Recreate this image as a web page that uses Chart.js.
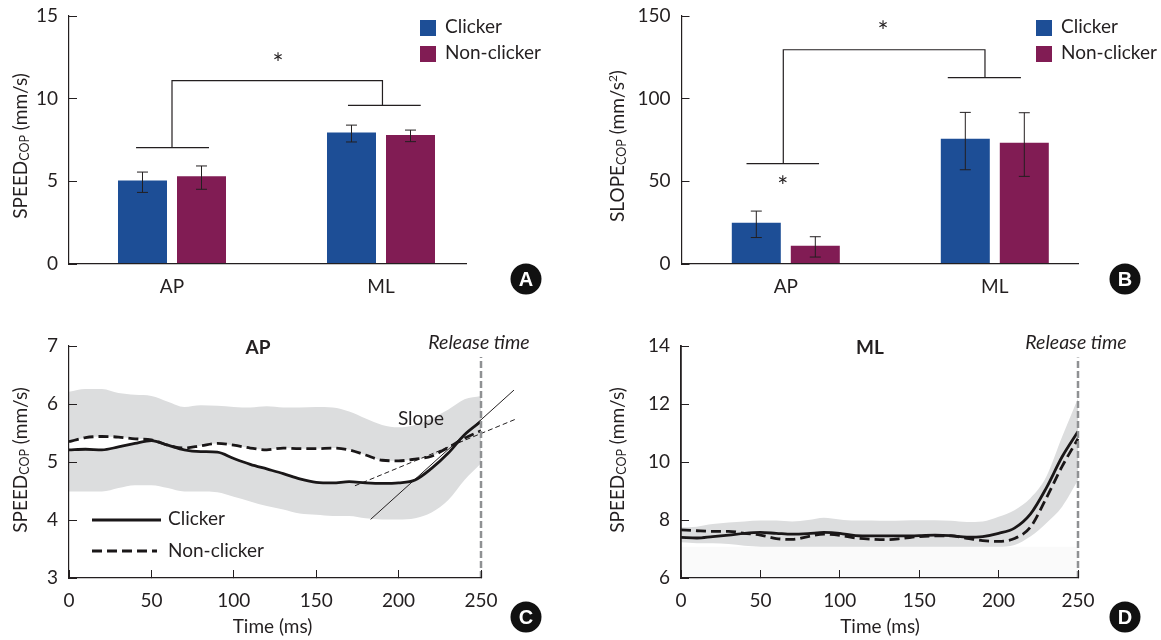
<!DOCTYPE html>
<html>
<head>
<meta charset="utf-8">
<script src="https://cdn.jsdelivr.net/npm/chart.js@4"></script>
<style>
html,body{margin:0;padding:0;background:#fff;width:1161px;height:640px;overflow:hidden}
canvas{position:absolute;display:block}
</style>
</head>
<body>
<canvas id="a" style="left:0;top:0"></canvas>
<canvas id="b" style="left:580px;top:0"></canvas>
<canvas id="c" style="left:0;top:320px"></canvas>
<canvas id="d" style="left:580px;top:320px"></canvas>
<script>
// ---------- data ----------
const groups = ['AP', 'ML'];
const seriesNames = ['Clicker', 'Non-clicker'];

const speedClicker = [5.05, 7.95];
const speedNonClicker = [5.3, 7.8];
const speedClickerHi = [5.56, 8.4];
const speedClickerLo = [4.33, 7.38];
const speedNonClickerHi = [5.93, 8.1];
const speedNonClickerLo = [4.52, 7.4];

const slopeClicker = [25, 75.8];
const slopeNonClicker = [11, 73.4];
const slopeClickerHi = [32, 91.7];
const slopeClickerLo = [16, 57];
const slopeNonClickerHi = [16.5, 91.5];
const slopeNonClickerLo = [4.2, 53];

const timeMs = [0,10,20,30,40,50,60,70,80,90,100,110,120,130,140,150,160,170,180,190,200,210,220,230,240,250];

const apClicker = [5.21,5.22,5.21,5.26,5.32,5.37,5.29,5.21,5.18,5.17,5.06,4.96,4.88,4.80,4.71,4.65,4.64,4.66,4.64,4.63,4.64,4.69,4.89,5.15,5.47,5.70];
const apNonClicker = [5.35,5.42,5.44,5.43,5.40,5.38,5.29,5.24,5.28,5.32,5.29,5.24,5.21,5.24,5.23,5.23,5.24,5.21,5.12,5.03,5.02,5.05,5.10,5.25,5.41,5.54];
const apBandUpper = [6.21,6.26,6.26,6.19,6.16,6.14,6.04,5.95,5.98,5.97,5.95,5.94,5.96,5.94,5.94,5.95,5.94,5.87,5.75,5.64,5.60,5.64,5.75,5.90,6.08,6.14];
const apBandLower = [4.49,4.49,4.49,4.55,4.60,4.60,4.55,4.49,4.49,4.48,4.40,4.32,4.24,4.18,4.11,4.09,4.07,4.07,4.03,4.01,4.01,4.03,4.13,4.34,4.69,4.98];
const slopeSolidX = [183, 270];
const slopeSolidY = [4.01, 6.24];
const slopeDashedX = [173.5, 272];
const slopeDashedY = [4.59, 5.75];

const mlClicker = [7.40,7.38,7.43,7.48,7.54,7.57,7.54,7.51,7.53,7.57,7.54,7.46,7.45,7.45,7.45,7.46,7.48,7.46,7.41,7.43,7.54,7.72,8.20,9.10,10.18,11.05];
const mlNonClicker = [7.66,7.63,7.61,7.61,7.54,7.48,7.36,7.33,7.43,7.51,7.47,7.38,7.34,7.32,7.37,7.43,7.45,7.45,7.37,7.29,7.26,7.36,7.75,8.75,9.85,10.80];
const mlBandUpper = [7.75,7.77,7.86,7.91,7.95,7.98,7.98,7.95,8.00,8.08,8.02,7.98,7.98,7.97,7.98,7.99,7.99,7.97,7.93,7.95,8.11,8.34,8.75,9.49,10.87,12.2];
const mlBandLower = [7.23,7.20,7.20,7.17,7.11,7.08,7.08,7.08,7.08,7.08,7.08,7.08,7.08,7.08,7.08,7.08,7.08,7.08,7.08,7.08,7.08,7.14,7.43,7.89,8.46,9.38];

// bracket polylines, x in category units (AP = 0, ML = 1), y in axis units
const bracketsAX = [[-0.172,0.177],[0.842,1.19],[0,0,1.007,1.007]];
const bracketsAY = [[7.04,7.04],[9.6,9.6],[7.04,11.09,11.09,9.6]];
const bracketsBX = [[-0.188,0.159],[0.775,1.125],[-0.012,-0.012,0.953,0.953]];
const bracketsBY = [[60.7,60.7],[112.7,112.7],[60.7,129.6,129.6,112.7]];

// ---------- styling ----------
const INK = '#231f20', BLUE = '#1d4e96', PLUM = '#811c54', BAND = '#dcddde', DASH = '#8f9193';
const FONT = 'Lato, "Open Sans", sans-serif';
const FS = 19;
const zip = (xs, ys) => xs.map((x, i) => ({x, y: ys[i]}));
Chart.defaults.font.family = FONT;
Chart.defaults.color = INK;
Chart.defaults.animation = false;

function txt(ctx, s, x, y, o = {}) {
  ctx.save();
  ctx.font = `${o.style || ''} ${o.weight || ''} ${o.size || FS}px ${FONT}`;
  ctx.fillStyle = o.color || INK;
  ctx.textAlign = o.align || 'left';
  ctx.textBaseline = o.base || 'middle';
  ctx.fillText(s, x, y);
  ctx.restore();
}
function rotatedTitle(ctx, parts, x, yc) {
  ctx.save();
  ctx.translate(x, yc);
  ctx.rotate(-Math.PI / 2);
  ctx.fillStyle = INK;
  ctx.textBaseline = 'alphabetic';
  ctx.textAlign = 'left';
  let w = 0;
  parts.forEach(p => { ctx.font = `${p.size || FS}px ${FONT}`; w += ctx.measureText(p.t).width; });
  let cx = -w / 2;
  parts.forEach(p => {
    ctx.font = `${p.size || FS}px ${FONT}`;
    ctx.fillText(p.t, cx, 7 + (p.dy || 0));
    cx += ctx.measureText(p.t).width;
  });
  ctx.restore();
}
function badge(ctx, s, x, y) {
  ctx.save();
  ctx.beginPath();
  ctx.arc(x, y, 15.5, 0, Math.PI * 2);
  ctx.fillStyle = '#111';
  ctx.fill();
  ctx.font = `bold 20px "Liberation Sans", Arial, sans-serif`;
  ctx.fillStyle = '#fff';
  ctx.textAlign = 'center';
  ctx.textBaseline = 'middle';
  ctx.fillText(s, x, y + 1);
  ctx.restore();
}
const SPEED_T = [{t:'SPEED'},{t:'COP',size:12.5,dy:2},{t:' (mm/s)'}];
const SLOPE_T = [{t:'SLOPE'},{t:'COP',size:12.5,dy:2},{t:' (mm/s'},{t:'2',size:12,dy:-7},{t:')'}];

// size = room the axis takes beside the plot area
function fixedScale(size, extra) {
  return Object.assign({
    afterFit(s) {
      if (s.isHorizontal()) { s.height = size; s.paddingLeft = 0; s.paddingRight = 0; }
      else { s.width = size; s.paddingTop = 0; s.paddingBottom = 0; }
    }
  }, extra);
}

function barChart(id, cfg) {
  const {w, h, left, right, top, bottom, yMax, yStep, center, step} = cfg;
  const lo = (left - center) / step, hi = (w - right - center) / step;
  const errorBars = {
    id:'errorBars',
    afterDatasetsDraw(chart) {
      const ctx = chart.ctx, ys = chart.scales.y;
      [0, 1].forEach(k => {
        chart.getDatasetMeta(k).data.forEach((el, i) => {
          const hiY = ys.getPixelForValue(cfg.hi[k][i]), loY = ys.getPixelForValue(cfg.lo[k][i]);
          ctx.save();
          ctx.strokeStyle = INK; ctx.lineWidth = 1;
          ctx.beginPath();
          ctx.moveTo(el.x, hiY); ctx.lineTo(el.x, loY);
          ctx.moveTo(el.x - 5.5, hiY); ctx.lineTo(el.x + 5.5, hiY);
          ctx.moveTo(el.x - 5.5, loY); ctx.lineTo(el.x + 5.5, loY);
          ctx.stroke();
          ctx.restore();
        });
      });
    }
  };
  const labels = {
    id:'labels',
    afterDraw(chart) {
      const ctx = chart.ctx, xs = chart.scales.x, ys = chart.scales.y;
      ctx.save();
      ctx.strokeStyle = INK; ctx.lineWidth = 1.2;
      cfg.bx.forEach((line, n) => {
        ctx.beginPath();
        line.forEach((v, i) => {
          const px = xs.getPixelForValue(v), py = ys.getPixelForValue(cfg.by[n][i]);
          if (i) ctx.lineTo(px, py); else ctx.moveTo(px, py);
        });
        ctx.stroke();
      });
      ctx.restore();
      rotatedTitle(ctx, cfg.title, cfg.titleX, cfg.titleY);
      cfg.stars.forEach(s => txt(ctx, '*', xs.getPixelForValue(s[0]), ys.getPixelForValue(s[1]), {align:'center', size:26}));
      ctx.fillStyle = BLUE; ctx.fillRect(cfg.legX, 20, 16, 16);
      ctx.fillStyle = PLUM; ctx.fillRect(cfg.legX, 46, 16, 16);
      txt(ctx, seriesNames[0], cfg.legX + 25, 27);
      txt(ctx, seriesNames[1], cfg.legX + 25, 53);
      badge(ctx, cfg.badge, cfg.badgeX, 279);
    }
  };
  const el = document.getElementById(id);
  el.width = w; el.height = h;
  new Chart(el, {
    type:'bar',
    data:{
      labels:groups,
      datasets:[
        {label:seriesNames[0], data:cfg.values[0], backgroundColor:BLUE, categoryPercentage:0.5646, barPercentage:0.8305},
        {label:seriesNames[1], data:cfg.values[1], backgroundColor:PLUM, categoryPercentage:0.5646, barPercentage:0.8305}
      ]
    },
    options:{
      responsive:false,
      layout:{padding:{left:0, right, top, bottom:0}},
      plugins:{legend:{display:false}, tooltip:{enabled:false}},
      scales:{
        x:fixedScale(bottom, {
          type:'category',
          afterBuildTicks(s) { s._startValue = lo; s._valueRange = hi - lo; },
          grid:{display:false},
          border:{display:true, color:INK, width:1.2, z:1},
          ticks:{font:{size:FS}, color:INK, padding:3, maxRotation:0}
        }),
        y:fixedScale(left, {
          min:0, max:yMax,
          grid:{drawOnChartArea:false, drawTicks:true, tickLength:-8, color:INK, lineWidth:1, z:1},
          border:{color:INK, width:1.2, z:1},
          ticks:{stepSize:yStep, font:{size:FS}, color:INK, padding:19}
        })
      }
    },
    plugins:[errorBars, labels]
  });
}

function lineChart(id, cfg) {
  const {w, h, left, right, top, bottom} = cfg;
  const el = document.getElementById(id);
  el.width = w; el.height = h;
  const line = (data, dash, width = 2.8) => ({data, borderColor:'#1a1718', borderWidth:width, borderDash:dash, pointRadius:0, fill:false, clip:false, cubicInterpolationMode:'monotone', order:1});
  const bandSet = (ys, target) => ({data:zip(timeMs, ys), borderWidth:0, borderColor:'transparent', pointRadius:0, backgroundColor:BAND, fill:target, clip:false, cubicInterpolationMode:'monotone', order:5});
  const labels = {
    id:'labels',
    afterDraw(chart) {
      const ctx = chart.ctx;
      rotatedTitle(ctx, SPEED_T, cfg.titleX, 140);
      cfg.draw(ctx, chart);
      txt(ctx, 'Time (ms)', cfg.xTitleX, 307, {align:'center'});
      txt(ctx, 'Release time', cfg.relX, 23, {align:'center', style:'italic', size:19.5});
      badge(ctx, cfg.badge, cfg.badgeX, 297);
    }
  };
  new Chart(el, {
    type:'line',
    data:{datasets:cfg.datasets({line, bandSet})},
    options:{
      responsive:false,
      layout:{padding:{left:0, right, top, bottom:0}},
      plugins:{legend:{display:false}, tooltip:{enabled:false}},
      scales:{
        x:fixedScale(bottom, {
          type:'linear', min:0, max:250,
          grid:{drawOnChartArea:false, drawTicks:true, tickLength:-8, color:INK, lineWidth:1, z:1},
          border:{color:INK, width:1.2, z:1},
          ticks:{stepSize:50, font:{size:FS}, color:INK, padding:19, maxRotation:0}
        }),
        y:fixedScale(left, {
          min:cfg.yMin, max:cfg.yMax,
          grid:{drawOnChartArea:false, drawTicks:true, tickLength:-8, color:INK, lineWidth:1, z:1},
          border:{color:INK, width:cfg.yBorder || 1.2, z:1},
          ticks:{stepSize:cfg.yStep, font:{size:FS}, color:INK, padding:19}
        })
      }
    },
    plugins:[labels]
  });
}

barChart('a', {
  w:580, h:310, left:69, right:114, top:16, bottom:46, yMax:15, yStep:5, center:172, step:209,
  values:[speedClicker, speedNonClicker],
  hi:[speedClickerHi, speedNonClickerHi], lo:[speedClickerLo, speedNonClickerLo],
  bx:bracketsAX, by:bracketsAY,
  stars:[[0.507, 12.04]],
  title:SPEED_T, titleX:20, titleY:146, legX:420, badge:'A', badgeX:526
});
barChart('b', {
  w:581, h:310, left:101.5, right:83, top:16, bottom:46, yMax:150, yStep:50, center:205.8, step:209,
  values:[slopeClicker, slopeNonClicker],
  hi:[slopeClickerHi, slopeNonClickerHi], lo:[slopeClickerLo, slopeNonClickerLo],
  bx:bracketsBX, by:bracketsBY,
  stars:[[0.465, 140], [-0.014, 46.5]],
  title:SLOPE_T, titleX:37, titleY:146, legX:456, badge:'B', badgeX:545
});
lineChart('c', {
  w:580, h:320, left:69, right:99, top:26, bottom:62, yMin:3, yMax:7, yStep:1,
  titleX:20, xTitleX:272.5, relX:479, badge:'C', badgeX:526,
  datasets:({line, bandSet}) => [
    bandSet(apBandUpper, 1),
    line(zip(timeMs, apNonClicker), [10, 5]),
    bandSet(apBandLower, 3),
    line(zip(timeMs, apClicker), []),
    {data:zip(slopeSolidX, slopeSolidY), borderColor:INK, borderWidth:1, pointRadius:0, clip:false, order:2},
    {data:zip(slopeDashedX, slopeDashedY), borderColor:INK, borderWidth:1, borderDash:[5,3], pointRadius:0, clip:false, order:2},
    {data:zip([250,250],[3,6.81]), borderColor:DASH, borderWidth:2.5, borderDash:[7,3], pointRadius:0, clip:false, order:0}
  ],
  draw(ctx) {
    ctx.save();
    ctx.strokeStyle = '#1a1718'; ctx.lineWidth = 2.8;
    ctx.beginPath(); ctx.moveTo(92, 200); ctx.lineTo(161, 200); ctx.stroke();
    ctx.setLineDash([10, 5]);
    ctx.beginPath(); ctx.moveTo(92, 231); ctx.lineTo(157, 231); ctx.stroke();
    ctx.restore();
    txt(ctx, seriesNames[0], 168, 199);
    txt(ctx, seriesNames[1], 168, 231);
    txt(ctx, 'Slope', 421, 99, {align:'center'});
    txt(ctx, 'AP', 258, 28, {align:'center', weight:'bold'});
  }
});
lineChart('d', {
  w:581, h:320, left:101, right:83, top:26, bottom:62, yMin:6, yMax:14, yStep:2, yBorder:1.8,
  titleX:37, xTitleX:300, relX:496, badge:'D', badgeX:545,
  datasets:({line, bandSet}) => [
    bandSet(mlBandUpper, 1),
    {data:zip(timeMs, mlBandLower), borderWidth:0, borderColor:'transparent', pointRadius:0, fill:false, clip:false, cubicInterpolationMode:'monotone', order:5},
    line(zip(timeMs, mlNonClicker), [10, 5]),
    line(zip(timeMs, mlClicker), []),
    {data:zip([250,250],[6,13.6]), borderColor:DASH, borderWidth:2.5, borderDash:[7,3], pointRadius:0, clip:false, order:0},
    {data:zip([-5,250],[7.08,7.08]), borderWidth:0, borderColor:'transparent', pointRadius:0, backgroundColor:'#fafafa', fill:{value:5.65}, clip:false, order:6}
  ],
  draw(ctx) {
    txt(ctx, 'ML', 290, 28, {align:'center', weight:'bold'});
  }
});
</script>
</body>
</html>
